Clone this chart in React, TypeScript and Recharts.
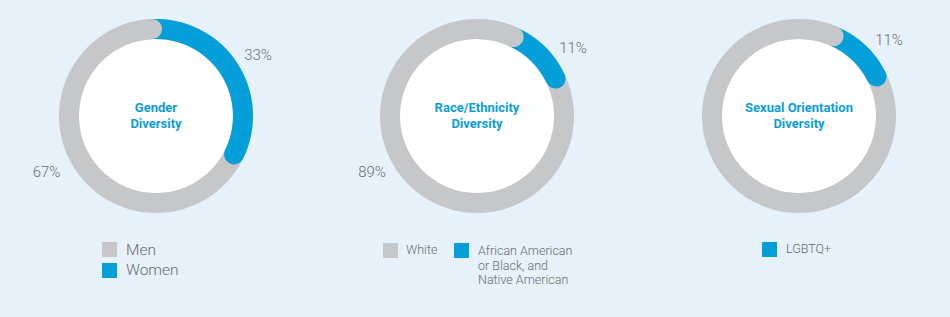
import React from "react";
import { PieChart, Pie, Cell } from "recharts";

const TITLES = [
  ["Gender", "Diversity"],
  ["Race/Ethnicity", "Diversity"],
  ["Sexual Orientation", "Diversity"],
];
const MAJORITY = [67, 89, 89];
const MINORITY = [33, 11, 11];
const SHOW_MAJORITY_LABEL = [true, true, false];

const GENDER_LEGEND = ["Men", "Women"];
const RACE_LEGEND = ["White", "African American\nor Black, and\nNative American"];
const ORIENTATION_LEGEND = ["LGBTQ+"];

const BG = "#e6f1fa";
const GRAY = "#c6c7c9";
const BLUE = "#049fd9";
const TEXT = "#6b6c6e";
const TITLE = "#0d9ddb";
const FONT = "Roboto, 'Liberation Sans', Arial, sans-serif";

const INNER = 77;
const OUTER = 97;
const CAP = 13.2; // degrees covered by a rounded end
const OVERLAP = 40;

// per-chart placement: chart left, start rotation (deg clockwise from top), label offsets
const LAYOUT = [
  { left: 6, rot: 4, minor: [102, -61], major: [-109.5, 56] },
  { left: 327, rot: 31.5, minor: [96, -68], major: [-105, 56] },
  { left: 649, rot: 30, minor: [90, -76], major: [0, 0] },
];

const W = 300;
const H = 232;

function pctLabel(text: string, dx: number, dy: number) {
  return (p: any) => (
    <text
      x={p.cx + dx}
      y={p.cy + dy}
      textAnchor="middle"
      dominantBaseline="central"
      fill={TEXT}
      fontSize={15}
      fontWeight={300}
      fontFamily={FONT}
    >
      {text}
    </text>
  );
}

function Donut({ i }: { i: number }) {
  const lay = LAYOUT[i];
  const span = (MINORITY[i] / 100) * 360;
  const top = 90 - lay.rot;
  return (
    <div style={{ position: "absolute", left: lay.left, top: 0, width: W, height: H }}>
      <PieChart width={W} height={H} margin={{ top: 0, right: 0, bottom: 0, left: 0 }}>
        <Pie
          data={[{ value: 1 }]}
          dataKey="value"
          cx="50%"
          cy="50%"
          innerRadius={0}
          outerRadius={INNER}
          stroke="none"
          fill="#ffffff"
          isAnimationActive={false}
        />
        <Pie
          data={[{ value: MAJORITY[i] }]}
          dataKey="value"
          cx="50%"
          cy="50%"
          startAngle={90}
          endAngle={-270}
          innerRadius={INNER}
          outerRadius={OUTER}
          stroke="none"
          isAnimationActive={false}
          labelLine={false}
          label={SHOW_MAJORITY_LABEL[i] ? pctLabel(`${MAJORITY[i]}%`, lay.major[0], lay.major[1]) : false}
        >
          <Cell fill={GRAY} />
        </Pie>
        <Pie
          data={[{ value: MINORITY[i] }]}
          dataKey="value"
          cx="50%"
          cy="50%"
          startAngle={top + CAP}
          endAngle={top - span}
          innerRadius={INNER}
          outerRadius={OUTER}
          cornerRadius={10}
          stroke="none"
          isAnimationActive={false}
          labelLine={false}
          label={pctLabel(`${MINORITY[i]}%`, lay.minor[0], lay.minor[1])}
        >
          <Cell fill={BLUE} />
        </Pie>
        <Pie
          data={[{ value: MAJORITY[i] }]}
          dataKey="value"
          cx="50%"
          cy="50%"
          startAngle={top + OVERLAP}
          endAngle={top}
          innerRadius={INNER}
          outerRadius={OUTER}
          cornerRadius={10}
          stroke="none"
          isAnimationActive={false}
        >
          <Cell fill={GRAY} />
        </Pie>
      </PieChart>
      <div
        style={{
          position: "absolute",
          left: 0,
          top: 0,
          width: W,
          height: H,
          display: "flex",
          flexDirection: "column",
          alignItems: "center",
          justifyContent: "center",
          pointerEvents: "none",
          color: TITLE,
          fontFamily: FONT,
          fontWeight: 700,
          fontSize: 13,
          lineHeight: "16px",
        }}
      >
        {TITLES[i].map((t) => (
          <div key={t}>{t}</div>
        ))}
      </div>
    </div>
  );
}

function Swatch({ color, x, y }: { color: string; x: number; y: number }) {
  return <div style={{ position: "absolute", left: x, top: y, width: 15, height: 15, background: color }} />;
}

function LegendText({ text, x, y, size }: { text: string; x: number; y: number; size: number }) {
  return (
    <div
      style={{
        position: "absolute",
        left: x,
        top: y,
        color: TEXT,
        fontFamily: FONT,
        fontWeight: 300,
        fontSize: size,
        lineHeight: size === 15.5 ? "20px" : "14.5px",
        whiteSpace: "pre",
      }}
    >
      {text}
    </div>
  );
}

export default function App() {
  return (
    <div
      style={{
        position: "absolute",
        left: 0,
        top: 0,
        width: 950,
        height: 317,
        background: BG,
        overflow: "hidden",
      }}
    >
      {[0, 1, 2].map((i) => (
        <Donut key={i} i={i} />
      ))}

      <Swatch color={GRAY} x={102} y={242} />
      <LegendText text={GENDER_LEGEND[0]} x={126} y={240} size={15.5} />
      <Swatch color={BLUE} x={102} y={263} />
      <LegendText text={GENDER_LEGEND[1]} x={126} y={260} size={15.5} />

      <Swatch color={GRAY} x={383} y={243} />
      <LegendText text={RACE_LEGEND[0]} x={406} y={243} size={12.5} />
      <Swatch color={BLUE} x={454} y={243} />
      <LegendText text={RACE_LEGEND[1]} x={478} y={244} size={12.5} />

      <Swatch color={BLUE} x={762} y={242} />
      <LegendText text={ORIENTATION_LEGEND[0]} x={786} y={242} size={12.5} />
    </div>
  );
}
